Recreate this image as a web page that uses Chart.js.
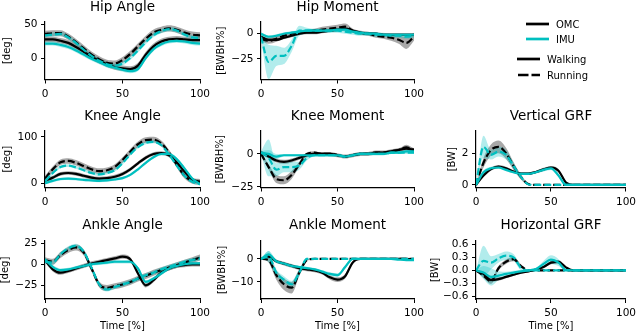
<!DOCTYPE html>
<html>
<head>
<meta charset="utf-8">
<script src="https://cdn.jsdelivr.net/npm/chart.js@4.4.1/dist/chart.umd.min.js"></script>
<style>
  html, body { margin: 0; padding: 0; background: #fff; }
  #wrap { position: relative; width: 640px; height: 333px; overflow: hidden; }
  #wrap canvas, #wrap svg { position: absolute; left: 0; top: 0; }
  #legend text { font-family: 'DejaVu Sans', sans-serif; font-size: 10px; fill: #000; }
</style>
</head>
<body>
<div id="wrap">
  <canvas id="hipAngle" width="640" height="333"></canvas>
  <canvas id="hipMoment" width="640" height="333"></canvas>
  <canvas id="kneeAngle" width="640" height="333"></canvas>
  <canvas id="kneeMoment" width="640" height="333"></canvas>
  <canvas id="verticalGrf" width="640" height="333"></canvas>
  <canvas id="ankleAngle" width="640" height="333"></canvas>
  <canvas id="ankleMoment" width="640" height="333"></canvas>
  <canvas id="horizontalGrf" width="640" height="333"></canvas>
  <svg id="legend" width="640" height="333">
    <line x1="526" y1="24" x2="549" y2="24" stroke="#000" stroke-width="2.7"/>
    <text x="556" y="24" dominant-baseline="central">OMC</text>
    <line x1="526" y1="39" x2="549" y2="39" stroke="#00bfbf" stroke-width="2.7"/>
    <text x="556" y="39" dominant-baseline="central">IMU</text>
    <line x1="517" y1="59" x2="540" y2="59" stroke="#000" stroke-width="2.7"/>
    <text x="547" y="59" dominant-baseline="central">Walking</text>
    <line x1="518" y1="75" x2="540" y2="75" stroke="#000" stroke-width="2.7" stroke-dasharray="10.5,3"/>
    <text x="547" y="75" dominant-baseline="central">Running</text>
  </svg>
</div>
<script>
// Zeit in % des Zyklus
const pct = [0, 5, 10, 15, 20, 25, 30, 35, 40, 45, 50, 55, 60, 65, 70, 75, 80, 85, 90, 95, 100];
const xTicks = [0, 50, 100];

// Hip Angle [deg]
const hipAngleOmcWalk = [28, 28, 26, 23, 17, 10, 3, -3, -8, -12, -14, -15, -10, 6, 18, 25, 28, 29, 28, 27, 27];
const hipAngleImuWalk = [22, 22, 20, 17, 12, 6, 0, -5, -10, -13, -16, -18, -15, 1, 14, 21, 25, 26, 25, 23, 22];
const hipAngleOmcRun = [36, 37, 37, 32, 24, 15, 6, -1, -6, -7, -2, 7, 18, 29, 38, 42, 44, 42, 38, 35, 34];
const hipAngleImuRun = [34, 35, 36, 31, 23, 13, 4, -3, -8, -10, -7, 1, 12, 24, 34, 40, 43, 41, 35, 31, 30];
const hipAngleOmcWalkSd = 4;
const hipAngleImuWalkSd = 3;
const hipAngleOmcRunSd = 4.5;
const hipAngleImuRunSd = 3;
const hipAngleTicks = [0, 50];

// Hip Moment [BWBH%]
const hipMomentOmcWalk = [-3, -6, -6, -4, -2, 0, 1, 1, 2, 3, 4, 5, 3, 1, 0, 0, -1, -1, -1, -1, -1];
const hipMomentImuWalk = [0, -3, -2, 0, 1, 2, 3, 3, 3, 3, 4, 4, 2, 1, 0, 0, -1, -1, -1, -1, -1];
const hipMomentOmcRun = [-5, -7, -5, -2, 0, 1, 2, 3, 4, 5, 6, 7, 3, 1, 0, -2, -3, -4, -6, -9, -3];
const hipMomentImuRun = [-3, -28, -22, -22, -12, 3, 3, 3, 3, 3, 3, 2, 1, 0, 0, -1, -1, -2, -2, -3, -2];
const hipMomentOmcWalkSd = 1.5;
const hipMomentImuWalkSd = 1.5;
const hipMomentOmcRunSd = [2, 3, 3, 2, 2, 2, 2, 2, 3, 3, 3, 3, 2, 2, 2, 2, 2, 3, 4, 6, 4];
const hipMomentImuRunSd = [3, 17, 10, 8, 6, 5, 3, 2, 2, 2, 2, 2, 2, 2, 2, 2, 2, 2, 2, 2, 2];
const hipMomentTicks = [-25, 0];

// Knee Angle [deg]
const kneeAngleOmcWalk = [5, 12, 20, 22, 20, 16, 12, 10, 11, 14, 20, 30, 43, 55, 63, 65, 60, 45, 25, 8, 3];
const kneeAngleImuWalk = [0, 5, 9, 10, 9, 7, 6, 5, 6, 8, 11, 18, 30, 44, 56, 63, 63, 52, 32, 10, -2];
const kneeAngleOmcRun = [10, 30, 45, 48, 44, 37, 30, 26, 28, 35, 50, 68, 84, 93, 94, 86, 66, 40, 16, 5, 3];
const kneeAngleImuRun = [4, 22, 35, 38, 34, 28, 22, 19, 22, 28, 43, 62, 78, 87, 89, 82, 62, 38, 16, 3, -2];
const kneeAngleOmcWalkSd = 4;
const kneeAngleImuWalkSd = 3;
const kneeAngleOmcRunSd = 6;
const kneeAngleImuRunSd = 3;
const kneeAngleTicks = [0, 100];

// Knee Moment [BWBH%]
const kneeMomentOmcWalk = [1, -2, -5, -6, -5, -3, -1, 0, 0, 0, -1, -2, -1, 0, 0, 1, 1, 2, 3, 4, 3];
const kneeMomentImuWalk = [1, 0, -2, -1, -1, -1, -1, -1, -1, -1, -1, -2, -1, 0, 0, 0, 0, 1, 1, 2, 2];
const kneeMomentOmcRun = [0, -10, -19, -20, -16, -8, 0, 1, 0, 0, -1, -2, -1, 0, 0, 1, 1, 2, 3, 5, 3];
const kneeMomentImuRun = [1, -3, -12, -10, -10, -9, -3, -1, -1, -1, -1, -2, -1, 0, 0, 0, 0, 1, 1, 1, 1];
const kneeMomentOmcWalkSd = 1.5;
const kneeMomentImuWalkSd = [1, 3, 2, 1, 1, 1, 1, 1, 1, 1, 1, 1, 1, 1, 1, 1, 1, 1, 1, 1, 1];
const kneeMomentOmcRunSd = [1, 2, 3, 3, 3, 2, 1, 1, 1, 1, 1, 1, 1, 1, 1, 1, 1, 1, 1, 2, 1];
const kneeMomentImuRunSd = [1, 14, 5, 4, 4, 3, 2, 1, 1, 1, 1, 1, 1, 1, 1, 1, 1, 1, 1, 1, 1];
const kneeMomentTicks = [-25, 0];

// Vertical GRF [BW]
const verticalGrfOmcWalk = [0, 0.6, 1.0, 1.15, 1.05, 0.85, 0.72, 0.72, 0.82, 0.98, 1.1, 0.9, 0.15, 0, 0, 0, 0, 0, 0, 0, 0];
const verticalGrfImuWalk = [0, 0.8, 1.05, 1.1, 0.95, 0.8, 0.7, 0.7, 0.8, 0.95, 1.05, 0.6, 0, 0, 0, 0, 0, 0, 0, 0, 0];
const verticalGrfOmcRun = [0, 1.4, 2.2, 2.4, 2.0, 1.2, 0.5, 0.05, 0, 0, 0, 0, 0, 0, 0, 0, 0, 0, 0, 0, 0];
const verticalGrfImuRun = [0, 2.4, 1.9, 2.1, 1.9, 1.2, 0.5, 0.03, 0, 0, 0, 0, 0, 0, 0, 0, 0, 0, 0, 0, 0];
const verticalGrfOmcWalkSd = [0, 0.1, 0.1, 0.1, 0.1, 0.08, 0.08, 0.08, 0.08, 0.1, 0.1, 0.1, 0.05, 0, 0, 0, 0, 0, 0, 0, 0];
const verticalGrfImuWalkSd = [0, 0.12, 0.1, 0.1, 0.08, 0.08, 0.08, 0.08, 0.08, 0.1, 0.1, 0.1, 0.03, 0, 0, 0, 0, 0, 0, 0, 0];
const verticalGrfOmcRunSd = [0, 0.3, 0.35, 0.4, 0.35, 0.25, 0.15, 0.05, 0, 0, 0, 0, 0, 0, 0, 0, 0, 0, 0, 0, 0];
const verticalGrfImuRunSd = [0, 0.7, 0.3, 0.3, 0.3, 0.2, 0.1, 0.03, 0, 0, 0, 0, 0, 0, 0, 0, 0, 0, 0, 0, 0];
const verticalGrfTicks = [0, 2];

// Ankle Angle [deg]
const ankleAngleOmcWalk = [5, -6, -10, -8, -5, -2, 1, 3, 5, 7, 9, 6, -11, -25, -19, -10, -5, -2, -1, 0, 0];
const ankleAngleImuWalk = [6, -3, -7, -6, -4, -2, 0, 1, 2, 3, 3, 3, -5, -21, -17, -11, -5, -2, 0, 1, 1];
const ankleAngleOmcRun = [5, 3, 11, 17, 20, 14, -5, -24, -28, -26, -24, -21, -17, -14, -10, -7, -4, -1, 2, 5, 8];
const ankleAngleImuRun = [3, 2, 12, 19, 22, 15, -4, -24, -30, -27, -24, -21, -17, -13, -10, -6, -3, 0, 3, 5, 7];
const ankleAngleOmcWalkSd = 2.5;
const ankleAngleImuWalkSd = 2;
const ankleAngleOmcRunSd = 3.5;
const ankleAngleImuRunSd = 2.5;
const ankleAngleTicks = [-25, 0, 25];

// Ankle Moment [BWBH%]
const ankleMomentOmcWalk = [0, 1, -1, -2, -3, -4, -4.5, -5, -6, -8, -9, -7.5, -1.5, 0, 0, 0, 0, 0, 0, 0, -0.3];
const ankleMomentImuWalk = [0, 2, -1, -2, -3, -3.5, -4, -4.5, -5.5, -6.5, -7, -3.5, 0, 0, 0, 0, 0, 0, -0.3, -0.5, -0.5];
const ankleMomentOmcRun = [0, -0.5, -7, -11, -12.5, -6, -0.5, 0, 0, 0, 0, 0, 0, 0, 0, 0, 0, 0, 0, 0, 0];
const ankleMomentImuRun = [0, 1, -6, -9, -11, -6, 0, 0, 0, 0, 0, 0, 0, 0, 0, 0, 0, 0, 0, 0, 0];
const ankleMomentOmcWalkSd = [0, 0.8, 0.8, 0.8, 0.8, 0.8, 0.8, 0.8, 0.8, 0.9, 1, 1, 0.5, 0, 0, 0, 0, 0, 0, 0, 0];
const ankleMomentImuWalkSd = [0, 1.5, 0.6, 0.6, 0.6, 0.6, 0.6, 0.6, 0.6, 0.7, 0.8, 0.8, 0.3, 0, 0, 0, 0, 0, 0, 0, 0];
const ankleMomentOmcRunSd = [0, 1, 2, 2.5, 2.5, 1.5, 0.5, 0, 0, 0, 0, 0, 0, 0, 0, 0, 0, 0, 0, 0, 0];
const ankleMomentImuRunSd = [0, 2.5, 1.5, 1.5, 1.5, 1.5, 0.5, 0, 0, 0, 0, 0, 0, 0, 0, 0, 0, 0, 0, 0, 0];
const ankleMomentTicks = [-10, 0];

// Horizontal GRF [BW]
const horizontalGrfOmcWalk = [0, -0.08, -0.22, -0.2, -0.15, -0.1, -0.05, -0.02, 0.02, 0.08, 0.18, 0.2, 0.07, 0, 0, 0, 0, 0, 0, 0, 0];
const horizontalGrfImuWalk = [0, -0.05, -0.15, -0.12, -0.08, -0.05, -0.02, 0, 0.03, 0.15, 0.25, 0.18, 0.01, 0, 0, 0, 0, 0, 0, 0, 0];
const horizontalGrfOmcRun = [0, -0.12, -0.25, 0.05, 0.2, 0.26, 0.1, 0, 0, 0, 0, 0, 0, 0, 0, 0, 0, 0, 0, 0, 0];
const horizontalGrfImuRun = [0, 0.22, 0.18, 0.28, 0.34, 0.3, 0.06, 0, 0, 0, 0, 0, 0, 0, 0, 0, 0, 0, 0, 0, 0];
const horizontalGrfOmcWalkSd = [0, 0.03, 0.04, 0.04, 0.03, 0.03, 0.02, 0.02, 0.02, 0.03, 0.04, 0.04, 0.02, 0, 0, 0, 0, 0, 0, 0, 0];
const horizontalGrfImuWalkSd = [0, 0.15, 0.2, 0.1, 0.05, 0.04, 0.03, 0.03, 0.03, 0.07, 0.1, 0.08, 0.02, 0, 0, 0, 0, 0, 0, 0, 0];
const horizontalGrfOmcRunSd = [0, 0.05, 0.06, 0.05, 0.05, 0.05, 0.04, 0, 0, 0, 0, 0, 0, 0, 0, 0, 0, 0, 0, 0, 0];
const horizontalGrfImuRunSd = [0, 0.35, 0.15, 0.1, 0.1, 0.08, 0.05, 0, 0, 0, 0, 0, 0, 0, 0, 0, 0, 0, 0, 0, 0];
const horizontalGrfTicks = [-0.6, -0.3, 0, 0.3, 0.6];

const FONT = "'DejaVu Sans', sans-serif";
const BLACK = '#000000';
const CYAN = '#00bfbf';
const GREY_BAND = 'rgba(110, 110, 110, 0.6)';
const CYAN_BAND = 'rgba(0, 191, 191, 0.3)';

// Titel zentriert über der Plotfläche
const panelTitle = {
    id: 'panelTitle',
    afterDraw(chart, args, opts) {
        const { ctx, chartArea } = chart;
        ctx.save();
        ctx.font = '13.5px ' + FONT;
        ctx.fillStyle = '#000';
        ctx.textAlign = 'center';
        ctx.textBaseline = 'middle';
        ctx.fillText(opts.text, (chartArea.left + chartArea.right) / 2, opts.y);
        ctx.restore();
    }
};

function pts(ys) {
    return ys.map((y, i) => ({ x: pct[i], y: y }));
}

function shift(mean, sd, sign) {
    return mean.map((v, i) => v + sign * (Array.isArray(sd) ? sd[i] : sd));
}

function lineDs(ys, color, dashed) {
    return {
        data: pts(ys),
        borderColor: color,
        borderWidth: 2.2,
        borderDash: dashed ? [7, 3] : [],
        pointRadius: 0,
        fill: false,
        cubicInterpolationMode: 'monotone'
    };
}

function bandDs(ys, color, fillTo) {
    return {
        data: pts(ys),
        borderColor: 'rgba(0,0,0,0)',
        borderWidth: 0,
        backgroundColor: color,
        pointRadius: 0,
        fill: fillTo,
        cubicInterpolationMode: 'monotone'
    };
}

function fmt(v, dec) {
    return v.toFixed(dec).replace('-', '\u2212');
}

// Reihen und Spalten der Plotflächen (Pixel)
const rowTop = [22, 131, 241];
const rowBottom = [79.5, 187.5, 299];
const rowTitleY = [7.5, 116, 225.5];
const colLeft = [45, 261, 476];
const colRight = [200, 414, 630];

function makePanel(id, p) {
    const top = rowTop[p.row], bottom = rowBottom[p.row];
    const left = colLeft[p.col], right = colRight[p.col];
    const xh = p.row === 2 ? 33 : 30;
    const datasets = [
        lineDs(p.imuRun, CYAN, true),
        lineDs(p.imuWalk, CYAN, false),
        lineDs(p.omcRun, BLACK, true),
        lineDs(p.omcWalk, BLACK, false),
        bandDs(shift(p.imuRun, p.imuRunSd, 1), CYAN_BAND, false),
        bandDs(shift(p.imuRun, p.imuRunSd, -1), CYAN_BAND, '-1'),
        bandDs(shift(p.imuWalk, p.imuWalkSd, 1), CYAN_BAND, false),
        bandDs(shift(p.imuWalk, p.imuWalkSd, -1), CYAN_BAND, '-1'),
        bandDs(shift(p.omcRun, p.omcRunSd, 1), GREY_BAND, false),
        bandDs(shift(p.omcRun, p.omcRunSd, -1), GREY_BAND, '-1'),
        bandDs(shift(p.omcWalk, p.omcWalkSd, 1), GREY_BAND, false),
        bandDs(shift(p.omcWalk, p.omcWalkSd, -1), GREY_BAND, '-1')
    ];
    const axisCommon = {
        grid: { drawOnChartArea: false, drawTicks: true, tickLength: 4, color: '#000', lineWidth: 1 },
        border: { display: true, color: '#000', width: 1.2 }
    };
    return new Chart(document.getElementById(id), {
        type: 'line',
        data: { datasets: datasets },
        plugins: [panelTitle],
        options: {
            responsive: false,
            animation: false,
            events: [],
            layout: {
                padding: { left: left - p.yw, right: 640 - right, top: top, bottom: 333 - bottom - xh }
            },
            plugins: {
                legend: { display: false },
                tooltip: { enabled: false },
                panelTitle: { text: p.title, y: rowTitleY[p.row] }
            },
            scales: {
                x: Object.assign({}, axisCommon, {
                    type: 'linear',
                    min: 0,
                    max: 100,
                    afterBuildTicks: s => { s.ticks = xTicks.map(v => ({ value: v })); },
                    afterFit: s => { s.height = xh; },
                    ticks: { color: '#000', font: { family: FONT, size: 10.5 }, padding: 4, maxRotation: 0, autoSkip: false, callback: v => fmt(v, 0) },
                    title: { display: p.row === 2, text: 'Time [%]', color: '#000', font: { family: FONT, size: 10 }, padding: 0 }
                }),
                y: Object.assign({}, axisCommon, {
                    type: 'linear',
                    min: p.ymin,
                    max: p.ymax,
                    afterBuildTicks: s => { s.ticks = p.ticks.map(v => ({ value: v })); },
                    afterFit: s => { s.width = p.yw; },
                    ticks: { color: '#000', font: { family: FONT, size: 10.5 }, padding: 3.5, autoSkip: false, callback: v => fmt(v, p.dec || 0) },
                    title: { display: true, text: p.ylabel, color: '#000', font: { family: FONT, size: 10 }, padding: 0 }
                })
            }
        }
    });
}

makePanel('hipAngle', {
    title: 'Hip Angle', row: 0, col: 0, ymin: -30.2, ymax: 53.3, ticks: hipAngleTicks, ylabel: '[deg]', yw: 44,
    omcWalk: hipAngleOmcWalk, imuWalk: hipAngleImuWalk, omcRun: hipAngleOmcRun, imuRun: hipAngleImuRun,
    omcWalkSd: hipAngleOmcWalkSd, imuWalkSd: hipAngleImuWalkSd, omcRunSd: hipAngleOmcRunSd, imuRunSd: hipAngleImuRunSd
});
makePanel('hipMoment', {
    title: 'Hip Moment', row: 0, col: 1, ymin: -45.3, ymax: 11.6, ticks: hipMomentTicks, ylabel: '[BWBH%]', yw: 45.3,
    omcWalk: hipMomentOmcWalk, imuWalk: hipMomentImuWalk, omcRun: hipMomentOmcRun, imuRun: hipMomentImuRun,
    omcWalkSd: hipMomentOmcWalkSd, imuWalkSd: hipMomentImuWalkSd, omcRunSd: hipMomentOmcRunSd, imuRunSd: hipMomentImuRunSd
});
makePanel('kneeAngle', {
    title: 'Knee Angle', row: 1, col: 0, ymin: -9.3, ymax: 112.6, ticks: kneeAngleTicks, ylabel: '[deg]', yw: 43.7,
    omcWalk: kneeAngleOmcWalk, imuWalk: kneeAngleImuWalk, omcRun: kneeAngleOmcRun, imuRun: kneeAngleImuRun,
    omcWalkSd: kneeAngleOmcWalkSd, imuWalkSd: kneeAngleImuWalkSd, omcRunSd: kneeAngleOmcRunSd, imuRunSd: kneeAngleImuRunSd
});
makePanel('kneeMoment', {
    title: 'Knee Moment', row: 1, col: 1, ymin: -25.5, ymax: 17.4, ticks: kneeMomentTicks, ylabel: '[BWBH%]', yw: 47,
    omcWalk: kneeMomentOmcWalk, imuWalk: kneeMomentImuWalk, omcRun: kneeMomentOmcRun, imuRun: kneeMomentImuRun,
    omcWalkSd: kneeMomentOmcWalkSd, imuWalkSd: kneeMomentImuWalkSd, omcRunSd: kneeMomentOmcRunSd, imuRunSd: kneeMomentImuRunSd
});
makePanel('verticalGrf', {
    title: 'Vertical GRF', row: 1, col: 2, ymin: -0.16, ymax: 3.4, ticks: verticalGrfTicks, ylabel: '[BW]', yw: 30,
    omcWalk: verticalGrfOmcWalk, imuWalk: verticalGrfImuWalk, omcRun: verticalGrfOmcRun, imuRun: verticalGrfImuRun,
    omcWalkSd: verticalGrfOmcWalkSd, imuWalkSd: verticalGrfImuWalkSd, omcRunSd: verticalGrfOmcRunSd, imuRunSd: verticalGrfImuRunSd
});
makePanel('ankleAngle', {
    title: 'Ankle Angle', row: 2, col: 0, ymin: -41.3, ymax: 27.7, ticks: ankleAngleTicks, ylabel: '[deg]', yw: 46,
    omcWalk: ankleAngleOmcWalk, imuWalk: ankleAngleImuWalk, omcRun: ankleAngleOmcRun, imuRun: ankleAngleImuRun,
    omcWalkSd: ankleAngleOmcWalkSd, imuWalkSd: ankleAngleImuWalkSd, omcRunSd: ankleAngleOmcRunSd, imuRunSd: ankleAngleImuRunSd
});
makePanel('ankleMoment', {
    title: 'Ankle Moment', row: 2, col: 1, ymin: -17.4, ymax: 7.8, ticks: ankleMomentTicks, ylabel: '[BWBH%]', yw: 44.3,
    omcWalk: ankleMomentOmcWalk, imuWalk: ankleMomentImuWalk, omcRun: ankleMomentOmcRun, imuRun: ankleMomentImuRun,
    omcWalkSd: ankleMomentOmcWalkSd, imuWalkSd: ankleMomentImuWalkSd, omcRunSd: ankleMomentOmcRunSd, imuRunSd: ankleMomentImuRunSd
});
makePanel('horizontalGrf', {
    title: 'Horizontal GRF', row: 2, col: 2, ymin: -0.66, ymax: 0.68, ticks: horizontalGrfTicks, ylabel: '[BW]', yw: 47, dec: 1,
    omcWalk: horizontalGrfOmcWalk, imuWalk: horizontalGrfImuWalk, omcRun: horizontalGrfOmcRun, imuRun: horizontalGrfImuRun,
    omcWalkSd: horizontalGrfOmcWalkSd, imuWalkSd: horizontalGrfImuWalkSd, omcRunSd: horizontalGrfOmcRunSd, imuRunSd: horizontalGrfImuRunSd
});
</script>
</body>
</html>
